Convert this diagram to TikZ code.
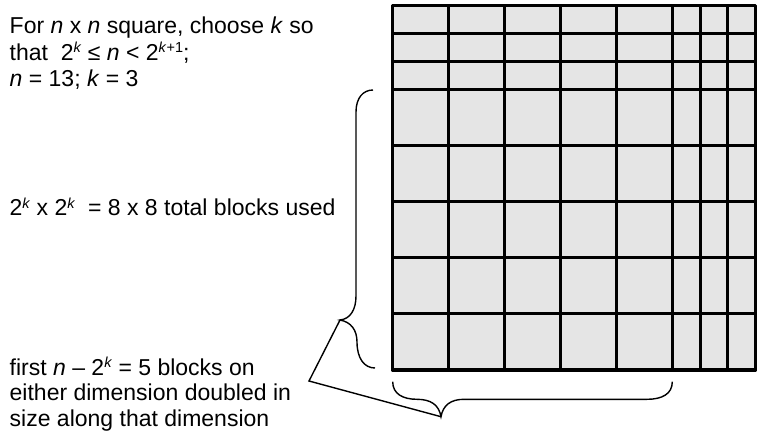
\documentclass[tikz,border=0pt]{standalone}
\usepackage{fontspec}
\setmainfont{Liberation Sans}
\newcommand\supx[1]{\raisebox{7.5pt}{\fontsize{14.5}{14.5}\selectfont #1}}
\definecolor{cellfill}{HTML}{E5E5E5}
\begin{document}
\begin{tikzpicture}[x=1pt,y=-1pt,
  txt/.style={anchor=base west, inner sep=0pt, font=\fontsize{23}{26}\selectfont},
  brace/.style={line width=1.4pt, line join=miter},
  gridline/.style={line width=3pt},
  frame/.style={line width=3.6pt, line join=round}]
\useasboundingbox (0,0) rectangle (762,434);
% grid
\fill[cellfill] (392.5,5.5) rectangle (755.5,369.8);
\foreach \x in {448.5,504.5,560.5,616.5,672.5,700.2,727.8}
  \draw[gridline] (\x,5.5) -- (\x,369.8);
\foreach \y in {33.6,61.7,89.8,145.8,201.8,257.8,313.8}
  \draw[gridline] (392.5,\y) -- (755.5,\y);
\draw[frame] (392.5,5.5) rectangle (755.5,369.8);
% brace coordinates
\coordinate (lbTop) at (373,90);
\coordinate (lbTip) at (340,320);
\coordinate (lbBot) at (375,368);
\coordinate (bbLeft) at (392.7,381.7);
\coordinate (bbTip) at (441,416.7);
\coordinate (bbRight) at (672.3,381.7);
\coordinate (bend) at (309,381);
% left brace
\draw[brace] (lbTop) .. controls (363,90) and (356,98) .. (356,112) -- (356,296)
  .. controls (356,310) and (350,319) .. (lbTip)
  .. controls (351,322) and (357,330) .. (357,342)
  .. controls (357,358) and (364,368) .. (lbBot);
% bottom brace
\draw[brace] (bbLeft) .. controls (392.7,394) and (403,399.3) .. (417,399.3)
  .. controls (431,399.3) and (439,405) .. (bbTip)
  .. controls (443,405) and (451,399.3) .. (464,399.3) -- (647,399.3)
  .. controls (662,399.3) and (672.3,394) .. (bbRight);
% connector
\draw[brace] (lbTip) -- (bend) -- (bbTip);
% texts
\node[txt] (t1) at (9.5,33.3) {For \textit{n} x \textit{n} square, choose \textit{k} so};
\node[txt] (t2) at (9.5,60) {that\ \ 2\supx{\textit{k}} ≤ \textit{n} < 2\supx{\textit{k}+1};};
\node[txt] (t3) at (9.5,86.7) {\textit{n} = 13; \textit{k} = 3};
\node[txt] (m1) at (9.5,215.7) {2\supx{\textit{k}} x 2\supx{\textit{k}}\ \ = 8 x 8 total blocks used};
\node[txt] (b1) at (9.5,375) {first \textit{n} – 2\supx{\textit{k}} = 5 blocks on};
\node[txt] (b2) at (9.5,400.7) {either dimension doubled in};
\node[txt] (b3) at (9.5,426) {size along that dimension};
\end{tikzpicture}
\end{document}
